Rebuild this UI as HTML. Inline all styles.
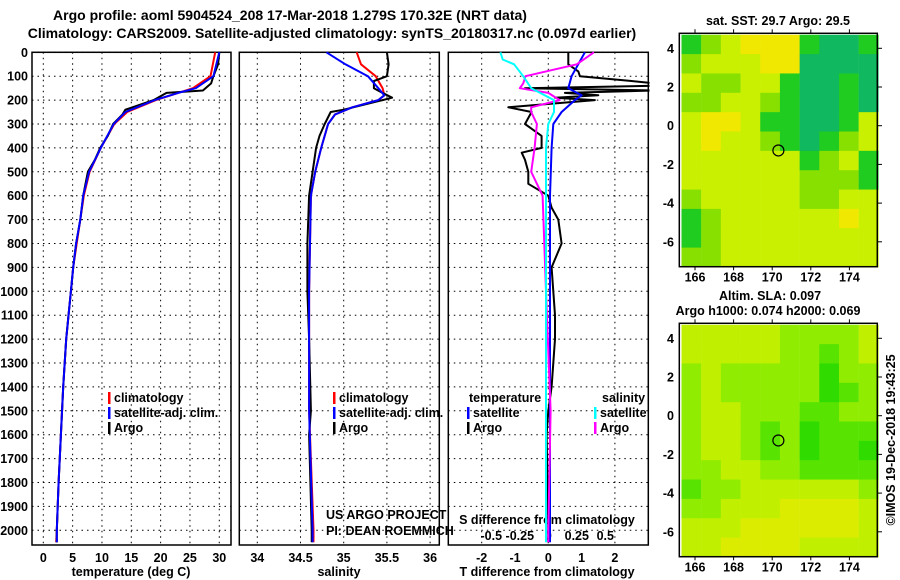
<!DOCTYPE html>
<html><head><meta charset="utf-8"><style>
body{margin:0;background:#fff;}
svg{display:block;font-family:"Liberation Sans",sans-serif;}
.b{font-weight:bold;font-size:12.5px;fill:#000;}
.t{font-weight:bold;font-size:14px;fill:#000;}
</style></head><body>
<svg id="s" width="900" height="580" viewBox="0 0 900 580">
<text class="t" x="290" y="20" text-anchor="middle">Argo profile: aoml 5904524_208 17-Mar-2018 1.279S 170.32E (NRT data)</text>
<text class="t" x="332" y="38" text-anchor="middle">Climatology: CARS2009. Satellite-adjusted climatology: synTS_20180317.nc (0.097d earlier)</text>
<g id="g"></g>
</svg>
<script>
// ---- data ----
const depthTicks=[0,100,200,300,400,500,600,700,800,900,1000,1100,1200,1300,1400,1500,1600,1700,1800,1900,2000];
const tTicks=[0,5,10,15,20,25,30];
const sTicks=[34,34.5,35,35.5,36];
const dTTicks=[-2,-1,0,1,2];
const dSTicks=[-0.5,-0.25,0,0.25,0.5];
const dSLabels=["-0.5","-0.25","0","0.25","0.5"];
const argoTDepth=[0,50,100,130,160,170,200,240,260,300,350,400,450,500,550,600,700,800,900,1000,1100,1200,1400,1600,1800,2000,2050];
const argoT=[30.0,29.8,29.0,28.6,27.2,21.0,18.8,14.0,13.5,11.9,11.0,9.7,8.8,7.6,7.2,6.8,6.3,5.6,5.1,4.7,4.3,3.9,3.4,3.0,2.6,2.3,2.3];
const satTDepth=[0,100,150,170,200,250,300,400,500,600,700,800,900,1000,1200,1400,1600,1800,2000,2050];
const satT=[30.0,29.0,26.0,23.0,19.0,14.0,12.0,9.8,7.8,6.8,6.3,5.6,5.1,4.7,3.9,3.4,3.0,2.6,2.3,2.3];
const climT=[29.3,28.5,25.5,23.0,19.2,14.3,12.1,9.8,7.9,6.9,6.3,5.7,5.1,4.7,3.9,3.4,3.0,2.6,2.3,2.2];
const argoSDepth=[0,50,100,120,150,170,190,200,240,250,300,350,400,500,600,800,1000,1200,1500,1600,2000,2050];
const argoS=[35.50,35.52,35.50,35.35,35.35,35.45,35.56,35.45,35.0,34.85,34.78,34.72,34.68,34.64,34.60,34.58,34.58,34.60,34.62,34.60,34.63,34.63];
const climSDepth=[0,50,100,150,180,200,230,260,300,400,500,600,1000,1500,2000,2050];
const climS=[35.15,35.2,35.37,35.45,35.47,35.4,35.1,34.9,34.82,34.74,34.67,34.62,34.60,34.60,34.65,34.65];
const satS=[34.80,35.02,35.28,35.40,35.47,35.4,35.1,34.9,34.82,34.74,34.67,34.62,34.60,34.60,34.64,34.64];
const dArgoTDepth=[0,50,80,100,120,130,140,150,160,170,180,190,200,230,250,300,350,400,420,450,500,550,600,650,700,800,900,1000,1100,1200,1400,1500,1600,2000,2050];
const dArgoT=[0.6,0.6,0.9,0.95,2.5,3.2,3.2,-0.7,3.2,0.5,1.5,0.2,1.4,-1.2,-0.5,-0.7,-0.2,-0.2,-0.8,-0.7,-0.6,-0.6,0.0,0.1,0.3,0.4,0.1,0.15,0.2,0.2,0.1,0.0,-0.05,0.0,0.0];
const dSatTDepth=[0,100,150,180,200,250,300,400,600,2050];
const dSatT=[1.1,0.7,0.6,1.0,0.8,0.4,0.15,0.1,0.05,0.05];
const dSatSDepth=[0,30,50,100,150,200,250,300,400,1000,2050];
const dSatS=[-0.42,-0.40,-0.30,-0.22,-0.15,0.05,0.05,0.0,-0.02,-0.02,-0.02];
const dArgoSDepth=[0,50,100,130,150,170,200,230,250,300,400,500,600,1000,1500,2000,2050];
const dArgoS=[0.4,0.25,-0.2,-0.22,-0.25,0.0,0.1,-0.15,-0.15,-0.1,-0.12,-0.15,-0.05,-0.02,0.02,0.0,0.0];
const mapLonTicks=[166,168,170,172,174];
const mapLatTicks=[4,2,0,-2,-4,-6];
const sstGrid=[
[2,3,4,5,5,5,2,1,1,2],[3,4,4,4,5,5,1,1,1,1],[4,3,3,4,4,2,1,1,2,1],[3,3,4,4,3,2,1,1,2,1],
[4,5,5,4,2,2,1,1,2,4],[4,5,4,4,3,2,1,2,3,4],[4,4,4,4,4,4,2,3,4,2],[4,4,4,4,4,4,3,3,3,2],
[3,4,4,4,4,4,3,3,4,4],[2,3,4,4,4,4,4,4,5,4],[2,3,4,4,4,4,4,4,4,4],[3,3,4,4,4,4,4,4,4,4]];
const slaGrid=[
[4,4,4,4,4,3,3,3,3,4],[4,4,4,4,4,3,3,2,3,4],[3,4,3,3,3,3,3,1,3,3],[3,4,3,3,3,3,3,1,2,3],
[3,4,4,3,3,3,2,2,3,3],[3,4,4,3,2,3,1,2,2,2],[3,4,4,3,2,3,1,2,2,1],[3,3,4,4,3,3,2,2,2,2],
[2,3,3,4,4,4,4,4,4,3],[3,3,4,4,4,5,5,5,5,4],[4,4,4,5,5,5,5,5,5,4],[4,4,5,5,5,5,4,4,4,4]];
const sstPal=["#00b0c0","#10b860","#20cc20","#88e000","#c8f000","#f0e800","#f0c000"];
const slaPal=["#00d000","#30dc00","#58e400","#90ec00","#c0f000","#dcec00"];
// ---- helpers ----
const NS="http://www.w3.org/2000/svg";
const G=document.getElementById('g');
function mk(t,a,p){const e=document.createElementNS(NS,t);for(const k in a)e.setAttribute(k,a[k]);(p||G).appendChild(e);return e;}
const Y=d=>52.3+d*0.239;
const xT=v=>43.3+v*5.866;
const xS=v=>257.3+(v-34)*86.4;
const xDT=v=>548.3+v*33.3;
const xDS=v=>548.3+v*114;
const BOT=545;
function panel(x0,x1,name){
  const r=mk('rect',{x:x0,y:52.3,width:x1-x0,height:BOT-52.3,fill:'none',stroke:'#000','stroke-width':1.5});
  
  
  depthTicks.forEach(d=>{const l=mk('line',{x1:x0,x2:x1,y1:Y(d),y2:Y(d),stroke:'#000','stroke-dasharray':'1.5,4'});
    
    });
}
function vgrid(xs,f){xs.forEach(v=>{const l=mk('line',{x1:f(v),x2:f(v),y1:52.3,y2:BOT,stroke:'#000','stroke-dasharray':'1.5,4'});
  
  });}
function line(ds,vs,f,col,name,w){const p=ds.map((d,i)=>f(vs[i]).toFixed(1)+','+Y(d).toFixed(1)).join(' ');
  const e=mk('polyline',{points:p,fill:'none',stroke:col,'stroke-width':w||2,'stroke-linejoin':'round'});
  
  }
function txt(x,y,s,cls,anchor,name){const e=mk('text',{x:x,y:y,class:cls||'b','text-anchor':anchor||'start'});e.textContent=s;
  
  return e;}
// ---- panels ----
panel(32,231,'temperature-panel');vgrid(tTicks,xT);
panel(239.3,439.3,'salinity-panel');vgrid(sTicks,xS);
panel(448.3,648.3,'difference-panel');vgrid([-2,0,2],xDT);
depthTicks.forEach(d=>txt(28,Y(d)+4.5,String(d),'b','end','depth-tick-label'));
tTicks.forEach(v=>txt(xT(v),562,String(v),'b','middle','temperature-tick-label'));
sTicks.forEach(v=>txt(xS(v),562,String(v),'b','middle','salinity-tick-label'));
dTTicks.forEach(v=>txt(xDT(v),562,String(v),'b','middle','t-diff-tick-label'));
dSTicks.forEach((v,i)=>txt(xDS(v),540,dSLabels[i],'b','middle','s-diff-tick-label'));
txt(131,576,'temperature (deg C)','b','middle','temperature-axis-title');
txt(339,576,'salinity','b','middle','salinity-axis-title');
txt(547,576,'T difference from climatology','b','middle','t-diff-axis-title');
txt(547,524,'S difference from climatology','b','middle','s-diff-axis-title');
// series
line(satTDepth,climT,xT,'#f00','climatology-temperature-line');
line(argoTDepth,argoT,xT,'#000','argo-temperature-line');
line(satTDepth,satT,xT,'#00f','satellite-temperature-line');
line(climSDepth,climS,xS,'#f00','climatology-salinity-line');
line(argoSDepth,argoS,xS,'#000','argo-salinity-line');
line(climSDepth,satS,xS,'#00f','satellite-salinity-line');
line(dArgoTDepth,dArgoT,xDT,'#000','argo-t-diff-line');
line(dSatTDepth,dSatT,xDT,'#00f','satellite-t-diff-line');
line(dArgoSDepth,dArgoS,xDS,'#f0f','argo-s-diff-line');
line(dSatSDepth,dSatS,xDS,'#0ff','satellite-s-diff-line');
mk('rect',{x:649.5,y:40,width:25,height:520,fill:'#fff'});
// legends
function leg(x,y,col,s,name){const r=mk('rect',{x:x,y:y-10,width:2.5,height:12,fill:col});
  
  
  txt(x+6,y,s,'b','start',name);}
leg(108,402,'#f00','climatology','legend-climatology');
leg(108,417,'#00f','satellite-adj. clim.','legend-satellite');
leg(108,432,'#000','Argo','legend-argo');
leg(333,402,'#f00','climatology','legend-climatology-s');
leg(333,417,'#00f','satellite-adj. clim.','legend-satellite-s');
leg(333,432,'#000','Argo','legend-argo-s');
txt(469,402,'temperature','b','start','legend-temperature-heading');
leg(467,417,'#00f','satellite','legend-t-satellite');
leg(467,432,'#000','Argo','legend-t-argo');
txt(602,402,'salinity','b','start','legend-salinity-heading');
leg(594,417,'#0ff','satellite','legend-s-satellite');
leg(594,432,'#f0f','Argo','legend-s-argo');
txt(326,519,'US ARGO PROJECT',null,'start','project-credit').setAttribute('style','font-size:12.5px');
txt(326,535,'PI: DEAN ROEMMICH',null,'start','pi-credit').setAttribute('style','font-size:12.5px');
// ---- maps ----
const mx=lon=>695+(lon-166)*19.3;
function map(y0,grid,pal,name){
  const yl=lat=>y0+15+(4-lat)*19.35;
  grid.forEach((row,i)=>row.forEach((v,j)=>{
    const lon=165.3+j*1.02, lat=4.7-i*1.0;
    const c=mk('rect',{x:mx(lon),y:yl(lat),width:19.9,height:19.8,fill:pal[v]});
    
    }));
  const f=mk('rect',{x:679.3,y:y0,width:198,height:233.4,fill:'none',stroke:'#000','stroke-width':1.5});
  
  
  mapLonTicks.forEach(v=>{txt(mx(v),y0+248,String(v),'b','middle',name+'-lon-label');
    mk('line',{x1:mx(v),x2:mx(v),y1:y0-4,y2:y0,stroke:'#000'});mk('line',{x1:mx(v),x2:mx(v),y1:y0+233,y2:y0+237,stroke:'#000'});});
  mapLatTicks.forEach(v=>{txt(674,yl(v)+4.5,String(v),'b','end',name+'-lat-label');
    mk('line',{x1:877,x2:882,y1:yl(v),y2:yl(v),stroke:'#000'});});
  const c=mk('circle',{cx:mx(170.32),cy:yl(-1.28),r:5.5,fill:'none',stroke:'#000','stroke-width':1.2});
  
  
}
map(33.3,sstGrid,sstPal,'sst-map');
map(323.3,slaGrid,slaPal,'sla-map');
txt(778,25,'sat. SST: 29.7 Argo: 29.5','b','middle','sst-map-title');
txt(770,300,'Altim. SLA: 0.097','b','middle','sla-map-title');
txt(768,315,'Argo h1000: 0.074 h2000: 0.069','b','middle','sla-map-subtitle');
const cr=txt(0,0,'©IMOS 19-Dec-2018 19:43:25',null,'middle','imos-credit');
cr.setAttribute('transform','translate(895,440) rotate(-90)');
cr.setAttribute('style','font-size:12.5px');
</script>
</body></html>
